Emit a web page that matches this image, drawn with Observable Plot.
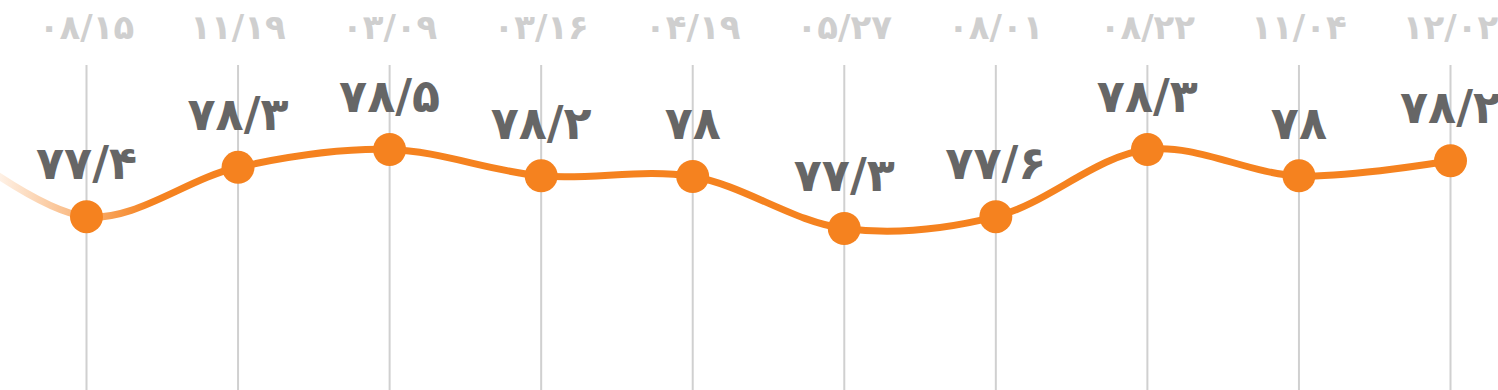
<!DOCTYPE html>
<html><head><meta charset="utf-8">
<script src="https://cdn.jsdelivr.net/npm/d3@7"></script>
<script src="https://cdn.jsdelivr.net/npm/@observablehq/plot@0.6"></script>
<style>body{margin:0;background:#fff}</style>
</head><body><div id="chart"></div>
<script>
const dates = ["۰۸/۱۵","۱۱/۱۹","۰۳/۰۹","۰۳/۱۶","۰۴/۱۹","۰۵/۲۷","۰۸/۰۱","۰۸/۲۲","۱۱/۰۴","۱۲/۰۲"];
const values = [77.48, 78.23, 78.5, 78.1, 78.09, 77.3, 77.48, 78.5, 78.1, 78.33];
const valueLabels = ["۷۷/۴","۷۸/۳","۷۸/۵","۷۸/۲","۷۸","۷۷/۳","۷۷/۶","۷۸/۳","۷۸","۷۸/۲"];
const previousValue = 78.8; // lead-in point just before the visible range

const idx = values.map((_, i) => i);
const lineData = [{i: -1, v: previousValue}, ...values.map((v, i) => ({i, v}))];
const pts = values.map((v, i) => ({i, v, label: valueLabels[i]}));
const orange = "#f5821f";

const chart = Plot.plot({
  width: 1498, height: 390,
  marginLeft: 86, marginRight: 48, marginTop: 65, marginBottom: 0,
  style: {fontFamily: "DejaVu Sans", background: "#fff"},
  x: {type: "linear", domain: [0, 9], axis: null},
  y: {domain: [74.84, 79.776], axis: null},
  marks: [
    Plot.ruleX(idx, {stroke: "#d0d0d0", strokeWidth: 2}),
    Plot.axisX({anchor: "top", ticks: idx, tickFormat: i => dates[i], tickSize: 0, tickPadding: 27,
      fontSize: 34, fontWeight: "bold", color: "#cfcfcf", label: null}),
    Plot.line(lineData, {x: "i", y: "v", curve: "catmull-rom", stroke: "url(#fade)", strokeWidth: 7}),
    Plot.dot(pts, {x: "i", y: "v", r: 16.5, fill: orange}),
    Plot.text(pts, {x: "i", y: "v", text: "label", dy: -52, fontSize: 46, fontWeight: "bold", fill: "#666"})
  ]
});
const defs = d3.select(chart).insert("defs", ":first-child");
const g = defs.append("linearGradient").attr("id", "fade").attr("gradientUnits", "userSpaceOnUse")
  .attr("x1", 0).attr("x2", 150).attr("y1", 0).attr("y2", 0);
g.append("stop").attr("offset", 0).attr("stop-color", orange).attr("stop-opacity", 0.12);
g.append("stop").attr("offset", 1).attr("stop-color", orange).attr("stop-opacity", 1);
document.getElementById("chart").appendChild(chart);
</script>
</body></html>
